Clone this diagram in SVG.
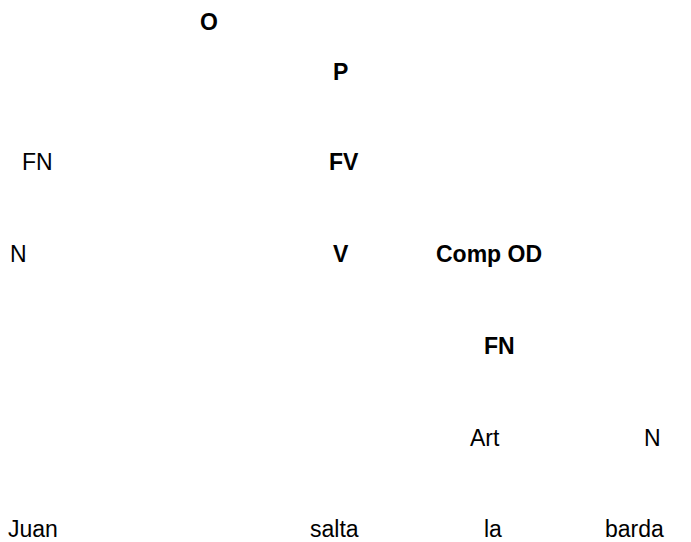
<svg xmlns="http://www.w3.org/2000/svg" width="691" height="542" viewBox="0 0 691 542">
<style>
text{font-family:"Liberation Sans Narrow","Arial Narrow","Liberation Sans",Arial,sans-serif;font-size:23px;fill:#000}
.b{font-weight:bold}
</style>
<rect width="691" height="542" fill="#fff"/>
<g id="connectors"></g>
<g id="n-O"><text class="b" x="200" y="30">O</text></g>
<g id="n-P"><text class="b" x="333" y="80">P</text></g>
<g id="n-FN1"><text x="22" y="170">FN</text></g>
<g id="n-FV"><text class="b" x="329" y="170">FV</text></g>
<g id="n-N1"><text x="10" y="262">N</text></g>
<g id="n-V"><text class="b" x="333" y="262">V</text></g>
<g id="n-CompOD"><text class="b" x="436" y="262">Comp OD</text></g>
<g id="n-FN2"><text class="b" x="484" y="354">FN</text></g>
<g id="n-Art"><text x="470" y="446">Art</text></g>
<g id="n-N2"><text x="644" y="446">N</text></g>
<g id="n-Juan"><text x="8" y="537">Juan</text></g>
<g id="n-salta"><text x="310" y="537">salta</text></g>
<g id="n-la"><text x="484" y="537">la</text></g>
<g id="n-barda"><text x="605" y="537">barda</text></g>
</svg>
